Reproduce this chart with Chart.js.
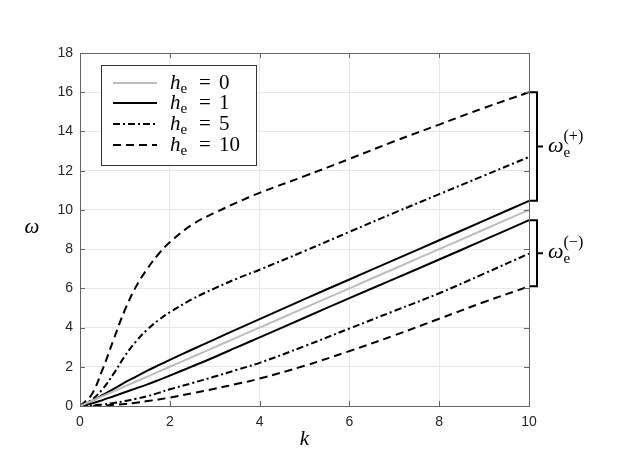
<!DOCTYPE html>
<html>
<head>
<meta charset="utf-8">
<script src="https://cdn.jsdelivr.net/npm/chart.js@4"></script>
<style>
  html, body { margin: 0; padding: 0; background: #fff; }
  #wrap { width: 623px; height: 467px; }
</style>
</head>
<body>
<div id="wrap"><canvas id="chart" width="623" height="467"></canvas></div>
<script>
// wavenumber k samples
const K = [0, 0.25, 0.5, 0.75, 1, 1.25, 1.5, 1.75, 2, 2.5, 3, 3.5, 4, 5, 6, 7, 8, 9, 10];

// omega, per h_e and branch
const H0    = [0, 0.25, 0.5, 0.75, 1, 1.25, 1.5, 1.75, 2, 2.5, 3, 3.5, 4, 5, 6, 7, 8, 9, 10];
const H1p   = [0, 0.25, 0.55, 0.87, 1.2, 1.5, 1.8, 2.08, 2.35, 2.88, 3.4, 3.92, 4.43, 5.45, 6.45, 7.45, 8.45, 9.45, 10.46];
const H1m   = [0, 0.12, 0.3, 0.5, 0.7, 0.9, 1.1, 1.32, 1.55, 2.02, 2.5, 3.0, 3.5, 4.5, 5.5, 6.48, 7.47, 8.47, 9.47];
const H5p   = [0, 0.3, 0.85, 1.65, 2.55, 3.3, 3.9, 4.38, 4.78, 5.45, 6.0, 6.5, 6.95, 7.9, 8.88, 9.85, 10.8, 11.75, 12.7];
const H5m   = [0, 0.02, 0.08, 0.15, 0.25, 0.37, 0.5, 0.67, 0.85, 1.17, 1.5, 1.85, 2.2, 3.05, 3.95, 4.85, 5.75, 6.75, 7.77];
const H10p  = [0, 0.55, 1.85, 3.4, 4.9, 6.1, 7.0, 7.75, 8.35, 9.25, 9.85, 10.38, 10.87, 11.72, 12.6, 13.5, 14.35, 15.2, 16.0];
const H10m  = [0, 0.01, 0.03, 0.06, 0.1, 0.17, 0.25, 0.33, 0.43, 0.65, 0.88, 1.13, 1.4, 2.05, 2.8, 3.6, 4.45, 5.3, 6.1];

const legendLabels = ['0', '1', '5', '10'];
const xTicks = [0, 2, 4, 6, 8, 10];
const yTicks = [0, 2, 4, 6, 8, 10, 12, 14, 16, 18];

const GRAY = '#bdbdbd';
const DASH = [8, 5];
const DASHDOT = [7, 3, 2, 3];

function pts(ys) { return K.map((k, i) => ({ x: k, y: ys[i] })); }

function line(ys, color, dash) {
    return {
        data: pts(ys),
        borderColor: color,
        borderWidth: 2,
        borderDash: dash || [],
        pointRadius: 0,
        tension: 0.4,
        fill: false
    };
}

const serif = '"Liberation Serif", "DejaVu Serif", serif';
const sans = '"Liberation Sans", Arial, sans-serif';

// draws the legend, axis titles, inner ticks, box and the braces
const extras = {
    id: 'extras',
    afterDraw(chart) {
        const ctx = chart.ctx;
        const a = chart.chartArea;
        const xs = chart.scales.x, ys = chart.scales.y;
        ctx.save();

        // top + right box lines
        ctx.strokeStyle = '#666';
        ctx.lineWidth = 1;
        ctx.beginPath();
        ctx.moveTo(a.left, a.top + 0.5); ctx.lineTo(a.right + 0.5, a.top + 0.5);
        ctx.lineTo(a.right + 0.5, a.bottom);
        ctx.stroke();

        // inner ticks
        ctx.beginPath();
        xTicks.forEach(v => {
            const px = Math.round(xs.getPixelForValue(v)) + 0.5;
            ctx.moveTo(px, a.bottom); ctx.lineTo(px, a.bottom - 5);
            ctx.moveTo(px, a.top); ctx.lineTo(px, a.top + 5);
        });
        yTicks.forEach(v => {
            const py = Math.round(ys.getPixelForValue(v)) + 0.5;
            ctx.moveTo(a.left, py); ctx.lineTo(a.left + 5, py);
            ctx.moveTo(a.right, py); ctx.lineTo(a.right - 5, py);
        });
        ctx.stroke();

        // axis titles
        ctx.fillStyle = '#000';
        ctx.textAlign = 'center';
        ctx.textBaseline = 'middle';
        ctx.font = 'italic 21px ' + serif;
        ctx.fillText('k', (a.left + a.right) / 2, 439);
        ctx.fillText('\u03C9', 32, (a.top + a.bottom) / 2 - 2);

        // legend box
        const lx = 101.5, ly = 65.5, lw = 155, lh = 100;
        ctx.fillStyle = '#fff';
        ctx.fillRect(lx, ly, lw, lh);
        ctx.strokeStyle = '#333';
        ctx.lineWidth = 1;
        ctx.strokeRect(lx, ly, lw, lh);
        const rowY = [83, 103, 124, 145];
        const styles = [[GRAY, []], ['#000', []], ['#000', DASHDOT], ['#000', DASH]];
        rowY.forEach((y, i) => {
            ctx.strokeStyle = styles[i][0];
            ctx.setLineDash(styles[i][1]);
            ctx.lineWidth = 2;
            ctx.beginPath();
            ctx.moveTo(113, y); ctx.lineTo(157, y);
            ctx.stroke();
            ctx.setLineDash([]);
            ctx.fillStyle = '#000';
            ctx.textAlign = 'left';
            ctx.textBaseline = 'alphabetic';
            let x = 170;
            ctx.font = 'italic 21px ' + serif;
            ctx.fillText('h', x, y + 6);
            x += ctx.measureText('h').width;
            ctx.font = '15px ' + serif;
            ctx.fillText('e', x, y + 10);
            ctx.font = '21px ' + serif;
            ctx.fillText('=', 199, y + 6);
            ctx.fillText(legendLabels[i], 219, y + 6);
        });

        // braces on the right
        const bx = a.right + 8;
        function brace(vTop, vBot, sign) {
            const t = ys.getPixelForValue(vTop), b = ys.getPixelForValue(vBot);
            const m = (t + b) / 2;
            ctx.strokeStyle = '#000';
            ctx.lineWidth = 2;
            ctx.beginPath();
            ctx.moveTo(bx - 7, t); ctx.lineTo(bx, t); ctx.lineTo(bx, b); ctx.lineTo(bx - 7, b);
            ctx.moveTo(bx, m); ctx.lineTo(bx + 6, m);
            ctx.stroke();
            ctx.fillStyle = '#000';
            ctx.textAlign = 'left';
            ctx.textBaseline = 'alphabetic';
            let x = bx + 11;
            ctx.font = 'italic 22px ' + serif;
            ctx.fillText('\u03C9', x, m + 5);
            x += ctx.measureText('\u03C9').width;
            ctx.font = '15px ' + serif;
            ctx.fillText('e', x, m + 10);
            ctx.font = '16px ' + serif;
            ctx.fillText('(' + sign + ')', x, m - 6);
        }
        brace(H10p[H10p.length - 1], H1p[H1p.length - 1], '+');
        brace(H1m[H1m.length - 1], H10m[H10m.length - 1], '\u2212');

        ctx.restore();
    }
};

new Chart(document.getElementById('chart').getContext('2d'), {
    type: 'line',
    data: {
        datasets: [
            line(H0, GRAY),
            line(H1p, '#000'),
            line(H1m, '#000'),
            line(H5p, '#000', DASHDOT),
            line(H5m, '#000', DASHDOT),
            line(H10p, '#000', DASH),
            line(H10m, '#000', DASH)
        ]
    },
    options: {
        responsive: false,
        animation: false,
        layout: { padding: { left: 0, top: 53, right: 94, bottom: 0 } },
        plugins: { legend: { display: false }, tooltip: { enabled: false } },
        scales: {
            x: {
                type: 'linear',
                min: 0, max: 10,
                afterFit: s => { s.height = 61; },
                afterBuildTicks: s => { s.ticks = xTicks.map(v => ({ value: v })); },
                grid: { color: '#e8e8e8', drawTicks: false },
                border: { display: true, color: '#666' },
                ticks: { padding: 8, color: '#262626', font: { family: sans, size: 14 }, maxRotation: 0 }
            },
            y: {
                min: 0, max: 18,
                afterFit: s => { s.width = 80; },
                afterBuildTicks: s => { s.ticks = yTicks.map(v => ({ value: v })); },
                grid: { color: '#e8e8e8', drawTicks: false },
                border: { display: true, color: '#666' },
                ticks: { padding: 7, color: '#262626', font: { family: sans, size: 14 } }
            }
        }
    },
    plugins: [extras]
});
</script>
</body>
</html>
